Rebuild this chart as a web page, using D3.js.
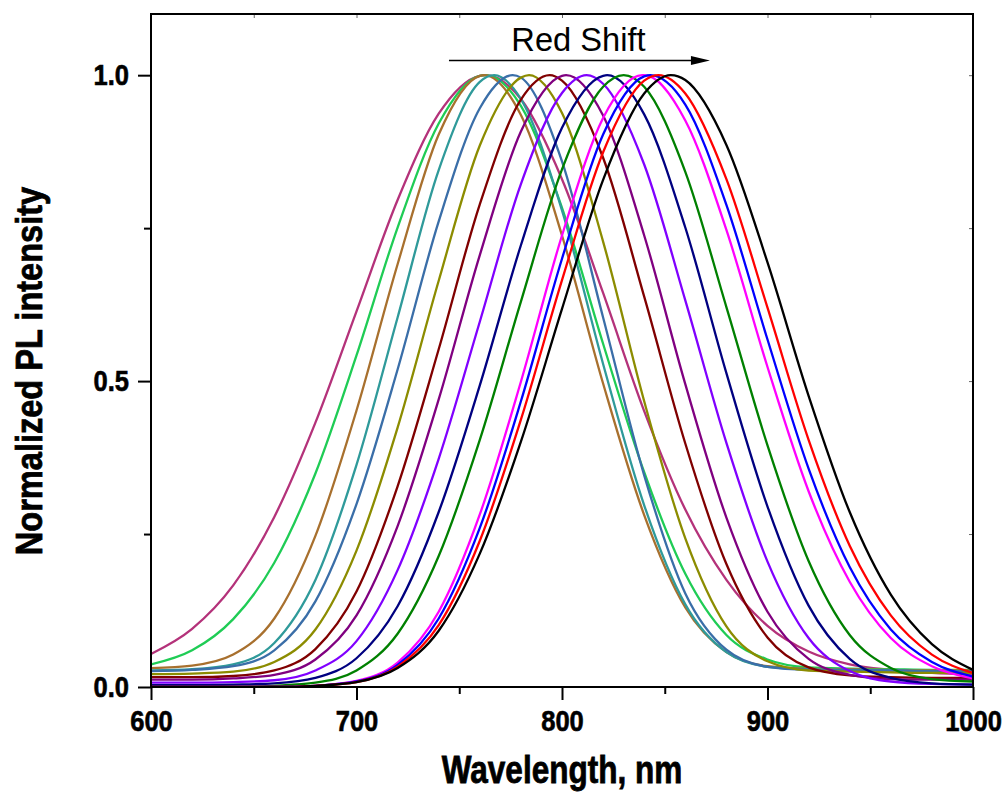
<!DOCTYPE html>
<html>
<head>
<meta charset="utf-8">
<script src="https://cdn.jsdelivr.net/npm/d3@7"></script>
<style>
  body { margin: 0; background: #fff; }
  text { font-family: "Liberation Sans", Arial, sans-serif; }
</style>
</head>
<body>
<svg id="chart" width="1006" height="792"></svg>
<script>
// wavelength grid (nm) every series is sampled on
var wavelengths = [600, 620, 640, 660, 680, 700, 720, 740, 760, 780, 800,
                   820, 840, 860, 880, 900, 920, 940, 960, 980, 1000];

// peak positions (nm) of each spectrum, where intensity = 1
var peaks = [763, 763, 762, 767, 776, 784, 794, 802, 812, 822, 830, 839, 843, 847, 853];

var colors = ["#b4327a", "#1fcc55", "#a8702e", "#2f9a9a", "#3a6ea8", "#8c8c00", "#800000",
              "#800080", "#8000ff", "#000080", "#008000", "#ff00ff", "#0000ff", "#ff0000", "#000000"];

// normalized PL intensity, one array per spectrum
var s1  = [.054, .095, .166, .278, .432, .614, .796, .937, .999, .961, .830, .644, .451, .290, .175, .100, .058, .037, .028, .023, .020];
var s2  = [.037, .060, .111, .203, .349, .542, .751, .921, .999, .950, .783, .561, .351, .185, .085, .045, .032, .030, .029, .028, .028];
var s3  = [.031, .035, .053, .112, .247, .452, .691, .903, .999, .935, .738, .496, .281, .130, .057, .034, .030, .029, .028, .027, .027];
var s4  = [.027, .029, .037, .072, .175, .363, .604, .845, .989, .961, .779, .528, .297, .135, .057, .033, .029, .028, .027, .026, .026];
var s5  = [.026, .028, .034, .060, .140, .299, .519, .761, .946, .996, .859, .604, .346, .153, .061, .033, .028, .027, .027, .026, .026];
var s6  = [.021, .022, .025, .041, .094, .223, .424, .664, .885, .996, .938, .728, .467, .243, .099, .042, .027, .025, .024, .023, .023];
var s7  = [.016, .016, .018, .027, .062, .156, .328, .552, .789, .960, .991, .865, .638, .398, .201, .081, .032, .019, .016, .015, .015];
var s8  = [.012, .012, .014, .020, .045, .117, .263, .470, .706, .908, .999, .934, .738, .495, .277, .123, .046, .020, .013, .012, .012];
var s9  = [.007, .007, .008, .011, .027, .075, .191, .373, .597, .822, .971, .986, .854, .632, .399, .205, .080, .026, .009, .005, .004];
var s10 = [.003, .003, .004, .006, .015, .047, .132, .286, .493, .722, .914, .999, .936, .751, .513, .295, .133, .046, .015, .006, .004];
var s11 = [0, 0, 0, .002, .007, .027, .087, .214, .404, .630, .846, .981, .981, .842, .621, .395, .206, .085, .031, .013, .009];
var s12 = [0, 0, 0, 0, .002, .010, .040, .123, .282, .499, .738, .930, 1.0, .926, .747, .523, .320, .172, .080, .034, .014];
var s13 = [0, 0, 0, 0, .002, .009, .036, .112, .260, .467, .700, .903, .998, .952, .788, .568, .357, .196, .094, .041, .017];
var s14 = [0, 0, 0, 0, .002, .008, .033, .101, .239, .437, .665, .874, .991, .970, .830, .620, .404, .231, .117, .053, .023];
var s15 = [0, 0, 0, 0, .002, .008, .031, .092, .218, .401, .618, .829, .970, .992, .886, .694, .476, .286, .151, .070, .028];

var spectra = [s1, s2, s3, s4, s5, s6, s7, s8, s9, s10, s11, s12, s13, s14, s15];

var xMajor = [600, 700, 800, 900, 1000];
var xMinor = [650, 750, 850, 950];
var yMajor = [0, 0.5, 1.0];
var yMinor = [0.25, 0.75];

var svg = d3.select("#chart");
var plotLeft = 151, plotRight = 973, plotTop = 14, plotBottom = 687;

var x = d3.scaleLinear().domain([600, 1000]).range([plotLeft, plotRight]);
var y = d3.scaleLinear().domain([0, 1.1]).range([plotBottom, plotTop]);

svg.append("defs").append("clipPath").attr("id", "plotclip")
  .append("rect").attr("x", plotLeft).attr("y", plotTop)
  .attr("width", plotRight - plotLeft).attr("height", plotBottom - plotTop);

// curves
var line = d3.line()
  .x(function(d) { return x(d[0]); })
  .y(function(d) { return y(d[1]); })
  .curve(d3.curveMonotoneX);

var curves = svg.append("g").attr("clip-path", "url(#plotclip)");
spectra.forEach(function(vals, i) {
  var pts = wavelengths.map(function(w, j) { return [w, vals[j]]; });
  if (wavelengths.indexOf(peaks[i]) < 0) pts.push([peaks[i], 1]);
  pts.sort(function(a, b) { return a[0] - b[0]; });
  curves.append("path")
    .attr("d", line(pts))
    .attr("fill", "none")
    .attr("stroke", colors[i])
    .attr("stroke-width", 2.3);
});

// axes
function styleAxis(g) {
  g.select(".domain").remove();
  g.selectAll(".tick line").attr("stroke", "#000").attr("stroke-width", 2);
}
function styleLabels(sel, shift) {
  sel.selectAll(".tick text")
    .attr("x", 0).attr("y", 0).attr("dy", 0)
    .attr("transform", shift + " scale(0.88,1)")
    .attr("fill", "#000")
    .attr("stroke", "#000").attr("stroke-width", 0.6)
    .style("font-size", "29px").style("font-weight", "bold")
    .style("font-family", "'Liberation Sans', Arial, sans-serif");
}

svg.append("g").attr("transform", "translate(0," + plotBottom + ")")
  .call(d3.axisBottom(x).tickValues(xMinor).tickSize(7).tickFormat(""))
  .call(styleAxis);
var xAx = svg.append("g").attr("transform", "translate(0," + plotBottom + ")")
  .call(d3.axisBottom(x).tickValues(xMajor).tickSize(13).tickFormat(d3.format("d")))
  .call(styleAxis);
styleLabels(xAx, "translate(0,44)");

svg.append("g").attr("transform", "translate(" + plotLeft + ",0)")
  .call(d3.axisLeft(y).tickValues(yMinor).tickSize(7).tickFormat(""))
  .call(styleAxis);
var yAx = svg.append("g").attr("transform", "translate(" + plotLeft + ",0)")
  .call(d3.axisLeft(y).tickValues(yMajor).tickSize(13).tickFormat(d3.format(".1f")))
  .call(styleAxis);
styleLabels(yAx, "translate(-22,9)");

// small inner ticks on top and right
svg.append("g").attr("transform", "translate(0," + plotTop + ")")
  .call(d3.axisTop(x).tickValues(xMajor.concat(xMinor)).tickSize(-4).tickFormat(""))
  .call(function(g) { g.select(".domain").remove(); g.selectAll("line").attr("stroke", "#666"); });
svg.append("g").attr("transform", "translate(" + plotRight + ",0)")
  .call(d3.axisRight(y).tickValues(yMajor.concat(yMinor)).tickSize(-4).tickFormat(""))
  .call(function(g) { g.select(".domain").remove(); g.selectAll("line").attr("stroke", "#666"); });

// frame
svg.append("rect")
  .attr("x", plotLeft).attr("y", plotTop)
  .attr("width", plotRight - plotLeft).attr("height", plotBottom - plotTop)
  .attr("fill", "none").attr("stroke", "#000").attr("stroke-width", 2);

// axis titles
svg.append("text")
  .attr("transform", "translate(" + ((plotLeft + plotRight) / 2) + ",783) scale(0.83,1)")
  .attr("text-anchor", "middle")
  .attr("stroke", "#000").attr("stroke-width", 0.8)
  .style("font-size", "38px").style("font-weight", "bold")
  .text("Wavelength, nm");

svg.append("text")
  .attr("transform", "translate(42,371) rotate(-90) scale(0.88,1)")
  .attr("text-anchor", "middle")
  .attr("stroke", "#000").attr("stroke-width", 0.8)
  .style("font-size", "37px").style("font-weight", "bold")
  .text("Normalized PL intensity");

// red shift annotation
var arrowFrom = 745, arrowTo = 872, arrowY = 1.024;
svg.append("line")
  .attr("x1", x(arrowFrom)).attr("x2", x(arrowTo) - 15)
  .attr("y1", y(arrowY)).attr("y2", y(arrowY))
  .attr("stroke", "#000").attr("stroke-width", 1.5);
svg.append("path")
  .attr("d", "M" + x(arrowTo) + "," + y(arrowY) +
             "L" + (x(arrowTo) - 19) + "," + (y(arrowY) - 4.5) +
             "L" + (x(arrowTo) - 19) + "," + (y(arrowY) + 4.5) + "Z")
  .attr("fill", "#000");

svg.append("text")
  .attr("transform", "translate(" + x(808) + "," + y(1.04) + ") scale(0.96,1)")
  .attr("text-anchor", "middle")
  .style("font-size", "34px")
  .text("Red Shift");
</script>
</body>
</html>
